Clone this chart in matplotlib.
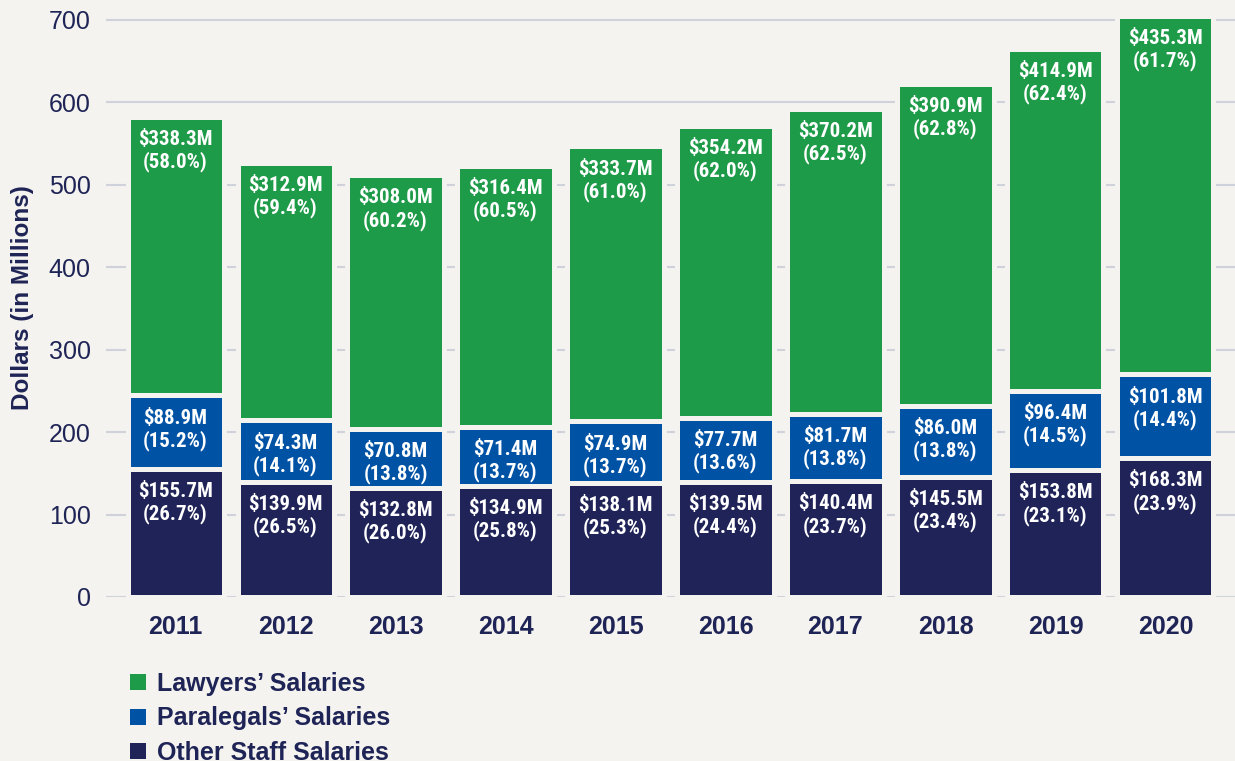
import matplotlib
matplotlib.use("Agg")
import matplotlib.pyplot as plt
from matplotlib import font_manager as fm
from matplotlib.patches import Patch
import numpy as np

years = ["2011", "2012", "2013", "2014", "2015", "2016", "2017", "2018", "2019", "2020"]
other_staff = [155.7, 139.9, 132.8, 134.9, 138.1, 139.5, 140.4, 145.5, 153.8, 168.3]
paralegals = [88.9, 74.3, 70.8, 71.4, 74.9, 77.7, 81.7, 86.0, 96.4, 101.8]
lawyers = [338.3, 312.9, 308.0, 316.4, 333.7, 354.2, 370.2, 390.9, 414.9, 435.3]
other_pct = ["26.7", "26.5", "26.0", "25.8", "25.3", "24.4", "23.7", "23.4", "23.1", "23.9"]
para_pct = ["15.2", "14.1", "13.8", "13.7", "13.7", "13.6", "13.8", "13.8", "14.5", "14.4"]
law_pct = ["58.0", "59.4", "60.2", "60.5", "61.0", "62.0", "62.5", "62.8", "62.4", "61.7"]
yticks = [0, 100, 200, 300, 400, 500, 600, 700]
legend_labels = ["Lawyers\u2019 Salaries", "Paralegals\u2019 Salaries", "Other Staff Salaries"]

BG = "#F4F3EF"
NAVY_TXT = "#1F2456"
GREEN = "#1E9B48"
BLUE = "#0052A5"
NAVY = "#1F2357"
GRID = "#CFD2DA"

names = {f.name for f in fm.fontManager.ttflist}
base = "Liberation Sans" if "Liberation Sans" in names else "DejaVu Sans"
cond = None
for c in ["Liberation Sans Narrow", "Roboto Condensed", "DejaVu Sans Condensed", "Open Sans Condensed"]:
    if c in names:
        cond = c
        break
label_kw = dict(family=cond if cond else base, weight="bold")
if not cond:
    label_kw["stretch"] = "condensed"

plt.rcParams["font.family"] = base

fig = plt.figure(figsize=(12.35, 7.61), dpi=100, facecolor=BG)
ax = fig.add_axes([106 / 1235, 1 - 597 / 761, 1129 / 1235, 593.5 / 761])
ax.set_facecolor(BG)

x = np.arange(len(years))
w = 0.873
edge = dict(edgecolor=BG, linewidth=3.6, zorder=3)
b1 = ax.bar(x, other_staff, w, color=NAVY, **edge)
bottom2 = np.array(other_staff)
b2 = ax.bar(x, paralegals, w, bottom=bottom2, color=BLUE, **edge)
bottom3 = bottom2 + np.array(paralegals)
b3 = ax.bar(x, lawyers, w, bottom=bottom3, color=GREEN, **edge)

def add_labels(vals, bottoms, pcts):
    for xi, v, b, p in zip(x, vals, bottoms, pcts):
        ax.annotate(f"${v:.1f}M\n({p}%)", xy=(xi, b + v), xytext=(0, -9.5),
                    textcoords="offset points", ha="center", va="top",
                    color="white", fontsize=15, linespacing=1.15, zorder=5,
                    **label_kw)

add_labels(other_staff, np.zeros(len(x)), other_pct)
add_labels(paralegals, bottom2, para_pct)
add_labels(lawyers, bottom3, law_pct)

ax.set_xlim(-0.632, 9.632)
ax.set_ylim(0, 720)
ax.set_yticks(yticks)
ax.set_yticklabels([str(t) for t in yticks], fontsize=18, color=NAVY_TXT)
ax.set_xticks(x)
ax.set_xticklabels(years, fontsize=18, fontweight="bold", color=NAVY_TXT)
ax.tick_params(axis="both", length=0)
ax.tick_params(axis="y", pad=11)
ax.tick_params(axis="x", pad=13)
for s in ax.spines.values():
    s.set_visible(False)
ax.yaxis.grid(True, color=GRID, linewidth=1.5, zorder=0)
ax.set_axisbelow(True)

ax.set_ylabel("Dollars (in Millions)", fontsize=17.5, fontweight="bold", color=NAVY_TXT)
ax.yaxis.set_label_coords(-72 / 1129, 0.505)

handles = [Patch(facecolor=GREEN), Patch(facecolor=BLUE), Patch(facecolor=NAVY)]
leg = fig.legend(handles, legend_labels, loc="upper left",
                 bbox_to_anchor=(130 / 1235, 1 - 672 / 761), frameon=False,
                 handlelength=0.62, handleheight=0.62, handletextpad=0.45,
                 labelspacing=0.42, borderaxespad=0, borderpad=0,
                 prop=dict(family=base, weight="bold", size=18))
for t in leg.get_texts():
    t.set_color(NAVY_TXT)

fig.savefig("out.png", dpi=100, facecolor=BG)
